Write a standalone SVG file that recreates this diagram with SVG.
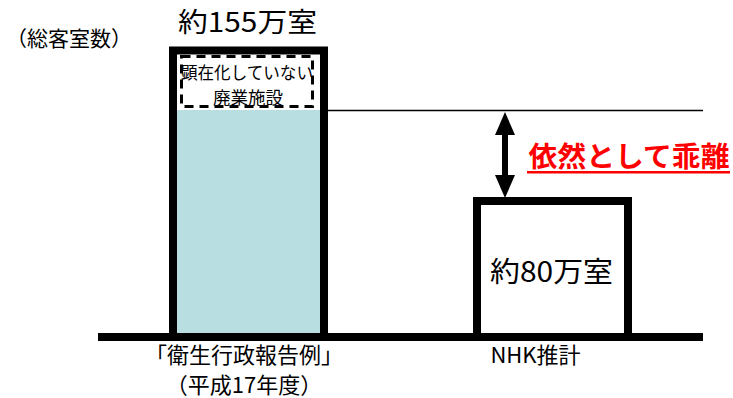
<svg xmlns="http://www.w3.org/2000/svg" width="733" height="398" viewBox="0 0 733 398">
<style>
text{font-family:"Noto Sans CJK JP","Liberation Sans",sans-serif;fill:#000}
.bar{fill:none;stroke:#000;stroke-width:8}
.lbl{font-size:22px}
</style>
<rect width="733" height="398" fill="#fff"/>
<g id="axis-label"><text x="69" y="46" font-size="21" text-anchor="middle">（総客室数）</text></g>
<g id="bar-hotel">
<rect x="177" y="110" width="143" height="223" fill="#b8dee2"/>
<rect class="bar" x="173" y="50.5" width="151" height="286.5"/>
<text x="247.5" y="32" font-size="27" text-anchor="middle" textLength="139" lengthAdjust="spacingAndGlyphs">約155万室</text>
</g>
<g id="hidden-closed">
<rect x="181.5" y="56.5" width="131" height="50" fill="none" stroke="#000" stroke-width="3" stroke-dasharray="9,6"/>
<text x="247" y="78.5" font-size="17" text-anchor="middle" textLength="132" lengthAdjust="spacingAndGlyphs">顕在化していない</text>
<text x="248" y="103.5" font-size="17.5" text-anchor="middle">廃業施設</text>
</g>
<g id="bar-nhk">
<rect x="481" y="205" width="143" height="128" fill="#fff"/>
<rect class="bar" x="477" y="201" width="151" height="136"/>
<text x="551.5" y="282" font-size="28" text-anchor="middle" textLength="123" lengthAdjust="spacingAndGlyphs">約80万室</text>
</g>
<g id="connectors">
<line x1="98" y1="337" x2="703" y2="337" stroke="#000" stroke-width="8"/>
<line x1="328" y1="110.5" x2="703" y2="110.5" stroke="#000" stroke-width="1.5"/>
<line x1="505" y1="130" x2="505" y2="180" stroke="#000" stroke-width="6"/>
<polygon points="505,112 515,135 495,135" fill="#000"/>
<polygon points="505,198 515,175 495,175" fill="#000"/>
</g>
<g id="gap-label">
<text x="528.5" y="167" font-size="28" font-weight="bold" style="fill:#ff0000" textLength="201" lengthAdjust="spacingAndGlyphs">依然として乖離</text>
<rect x="527" y="171" width="203" height="2.5" fill="#ff0000"/>
</g>
<g id="x-labels">
<text class="lbl" x="244" y="363" text-anchor="middle">「衛生行政報告例」</text>
<text class="lbl" x="244" y="393" text-anchor="middle">（平成17年度）</text>
<text class="lbl" x="535.5" y="363" text-anchor="middle">NHK推計</text>
</g>
</svg>
